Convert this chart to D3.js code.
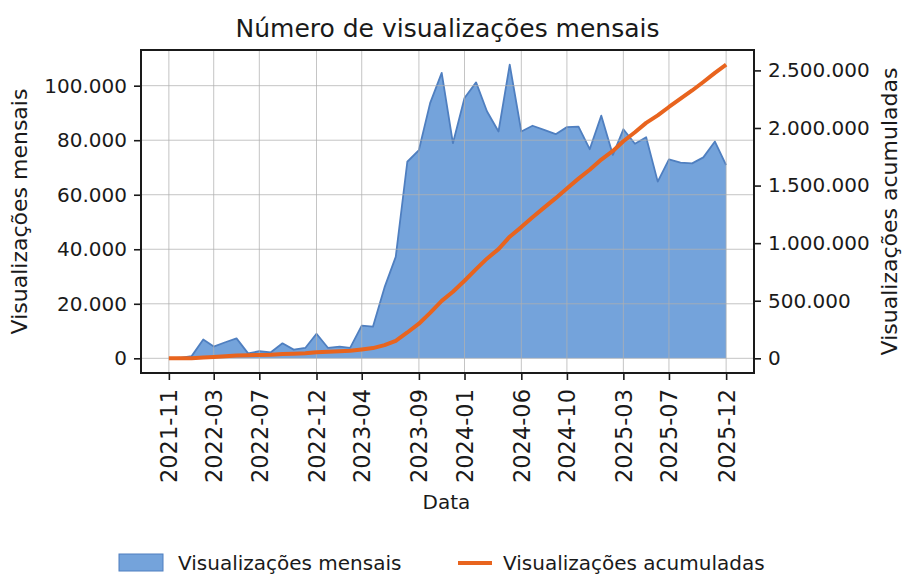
<!DOCTYPE html>
<html>
<head>
<meta charset="utf-8">
<script src="https://cdn.jsdelivr.net/npm/d3@7"></script>
<style>
  body { margin: 0; background: #fff; }
  svg, svg text { font-family: "DejaVu Sans", sans-serif; }
  .grid line { stroke: #b0b0b0; stroke-opacity: 0.75; stroke-width: 1; }
</style>
</head>
<body>
<div id="chart"></div>
<script>
// months 2021-11 .. 2025-12
const months = ["2021-11","2021-12","2022-01","2022-02","2022-03","2022-04","2022-05","2022-06","2022-07","2022-08",
  "2022-09","2022-10","2022-11","2022-12","2023-01","2023-02","2023-03","2023-04","2023-05","2023-06",
  "2023-07","2023-08","2023-09","2023-10","2023-11","2023-12","2024-01","2024-02","2024-03","2024-04",
  "2024-05","2024-06","2024-07","2024-08","2024-09","2024-10","2024-11","2024-12","2025-01","2025-02",
  "2025-03","2025-04","2025-05","2025-06","2025-07","2025-08","2025-09","2025-10","2025-11","2025-12"];
const monthlyViews = [0, 200, 800, 6900, 4300, 5900, 7300, 1800, 2600, 2200,
  5500, 3200, 3800, 9000, 3800, 4300, 3800, 12000, 11600, 26000,
  37200, 72100, 76400, 93600, 104700, 78900, 95500, 101200, 90600, 83200,
  107700, 83200, 85300, 83800, 82200, 84800, 85000, 76700, 89000, 74600,
  84000, 78700, 81100, 64800, 73000, 71800, 71500, 73700, 79500, 70900];
const tickLabels = ["2021-11","2022-03","2022-07","2022-12","2023-04","2023-09",
  "2024-01","2024-06","2024-10","2025-03","2025-07","2025-12"];
const leftTicks = [0, 20000, 40000, 60000, 80000, 100000];
const rightTicks = [0, 500000, 1000000, 1500000, 2000000, 2500000];

const W = 905, H = 577;
const plot = {left: 141, right: 754, top: 50, bottom: 373};
const FONT = "DejaVu Sans, sans-serif";

const parseMonth = d3.timeParse("%Y-%m");
const dates = months.map(parseMonth);
const cumulative = Array.from(d3.cumsum(monthlyViews));
const rows = dates.map((d, i) => ({date: d, v: monthlyViews[i], c: cumulative[i]}));

const ptFmt = d3.formatLocale({decimal: ",", thousands: ".", grouping: [3], currency: ["R$", ""]}).format(",d");

// matplotlib style 5% margins
function padded(lo, hi) { const m = (hi - lo) * 0.05; return [lo - m, hi + m]; }

const tExt = d3.extent(dates, d => +d);
const x = d3.scaleTime().domain(padded(tExt[0], tExt[1]).map(t => new Date(t))).range([plot.left, plot.right]);
const yL = d3.scaleLinear().domain(padded(0, d3.max(monthlyViews))).range([plot.bottom, plot.top]);
const yR = d3.scaleLinear().domain(padded(0, d3.max(cumulative))).range([plot.bottom, plot.top]);

const svg = d3.select("#chart").append("svg").attr("width", W).attr("height", H);

// area
svg.append("path").datum(rows)
  .attr("d", d3.area().x(d => x(d.date)).y0(yL(0)).y1(d => yL(d.v)))
  .attr("fill", "#74a3db");
svg.append("path").datum(rows)
  .attr("d", d3.line().x(d => x(d.date)).y(d => yL(d.v)))
  .attr("fill", "none").attr("stroke", "#4f7fc0").attr("stroke-width", 1.8).attr("stroke-linejoin", "round");

// grid (above fill, like matplotlib)
const tickDates = tickLabels.map(parseMonth);
const grid = svg.append("g").attr("class", "grid");
grid.selectAll("line.v").data(tickDates).join("line").attr("class", "v")
  .attr("x1", d => x(d)).attr("x2", d => x(d)).attr("y1", plot.top).attr("y2", plot.bottom);
grid.selectAll("line.h").data(leftTicks).join("line").attr("class", "h")
  .attr("x1", plot.left).attr("x2", plot.right).attr("y1", d => yL(d)).attr("y2", d => yL(d));

// cumulative line
svg.append("path").datum(rows)
  .attr("d", d3.line().x(d => x(d.date)).y(d => yR(d.c)))
  .attr("fill", "none").attr("stroke", "#e8641e").attr("stroke-width", 4).attr("stroke-linejoin", "round");

// axes
const axB = svg.append("g").attr("transform", `translate(0,${plot.bottom})`)
  .call(d3.axisBottom(x).tickValues(tickDates).tickFormat(d3.timeFormat("%Y-%m")).tickSize(7).tickPadding(7));
axB.selectAll("text")
  .attr("font-size", 22.5)
  .attr("text-anchor", "end").attr("dy", "0.35em")
  .attr("transform", "rotate(-90)").attr("x", -16).attr("y", 0);

const axL = svg.append("g").attr("transform", `translate(${plot.left},0)`)
  .call(d3.axisLeft(yL).tickValues(leftTicks).tickFormat(ptFmt).tickSize(7).tickPadding(7));
axL.selectAll("text").attr("font-size", 20);

const axR = svg.append("g").attr("transform", `translate(${plot.right},0)`)
  .call(d3.axisRight(yR).tickValues(rightTicks).tickFormat(ptFmt).tickSize(7).tickPadding(7));
axR.selectAll("text").attr("font-size", 20);

[axB, axL, axR].forEach(a => {
  a.attr("font-family", FONT);
  a.select(".domain").remove();
  a.selectAll(".tick text").attr("fill", "#1a1a1a");
  a.selectAll(".tick line").attr("stroke", "#1a1a1a").attr("stroke-width", 1.6);
});

// frame
svg.append("rect").attr("x", plot.left).attr("y", plot.top)
  .attr("width", plot.right - plot.left).attr("height", plot.bottom - plot.top)
  .attr("fill", "none").attr("stroke", "#1a1a1a").attr("stroke-width", 2);

// title and labels
svg.append("text").attr("x", (plot.left + plot.right) / 2).attr("y", 37)
  .attr("text-anchor", "middle").attr("font-size", 25).attr("fill", "#1a1a1a")
  .text("Número de visualizações mensais");
svg.append("text").attr("x", (plot.left + plot.right) / 2 - 1).attr("y", 509)
  .attr("text-anchor", "middle").attr("font-size", 20).attr("fill", "#1a1a1a").text("Data");
svg.append("text").attr("transform", `translate(27,${(plot.top + plot.bottom) / 2}) rotate(-90)`)
  .attr("text-anchor", "middle").attr("font-size", 22).attr("fill", "#1a1a1a").text("Visualizações mensais");
svg.append("text").attr("transform", `translate(897,${(plot.top + plot.bottom) / 2}) rotate(-90)`)
  .attr("text-anchor", "middle").attr("font-size", 22).attr("fill", "#1a1a1a").text("Visualizações acumuladas");

// legend
const lg = svg.append("g");
lg.append("rect").attr("x", 119).attr("y", 554).attr("width", 44).attr("height", 17)
  .attr("fill", "#74a3db").attr("stroke", "#4f7fc0").attr("stroke-width", 1);
lg.append("text").attr("x", 178).attr("y", 570).attr("font-size", 20).attr("fill", "#1a1a1a").text("Visualizações mensais");
lg.append("line").attr("x1", 458).attr("x2", 492).attr("y1", 563).attr("y2", 563)
  .attr("stroke", "#e8641e").attr("stroke-width", 4);
lg.append("text").attr("x", 503).attr("y", 570).attr("font-size", 20).attr("fill", "#1a1a1a").text("Visualizações acumuladas");
</script>
</body>
</html>
